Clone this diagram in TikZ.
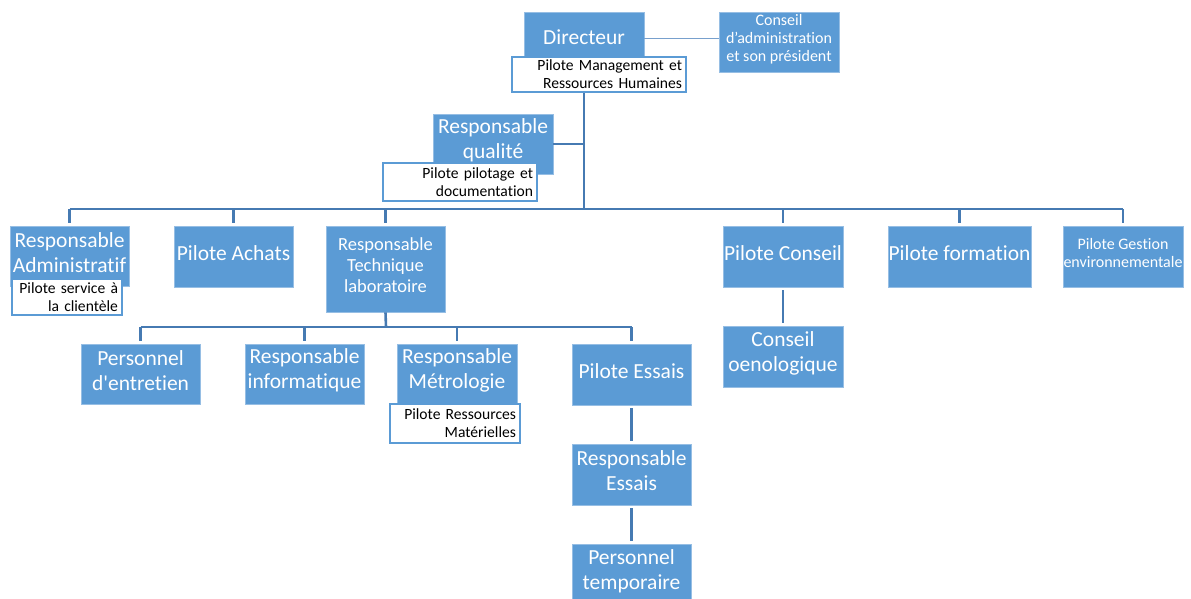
\documentclass[tikz,border=0pt]{standalone}
\usepackage{fontspec}
\setmainfont{Carlito}[Ligatures={TeX,NoCommon}]
\definecolor{boxblue}{RGB}{91,155,213}
\definecolor{boxedge}{RGB}{150,190,228}
\definecolor{connblue}{RGB}{70,122,178}
\definecolor{thinblue}{RGB}{120,160,205}
\tikzset{
  bshape/.style={fill=boxblue, draw=boxedge, line width=0.8pt, inner sep=0pt},
  bt/.style={text=white, align=center, inner sep=0pt, yshift=3.5pt,
    font=\fontsize{21.5}{25}\selectfont},
  btmed/.style={bt, font=\fontsize{18.5}{21}\selectfont},
  btsm/.style={bt, font=\fontsize{16}{18}\selectfont},
  wb/.style={fill=white, draw=boxblue, line width=2pt, text=black, align=right, inner xsep=4pt, inner ysep=0pt,
    font=\fontsize{15.6}{18}\selectfont},
  conn/.style={draw=connblue, line width=2.6pt},
  thin/.style={draw=thinblue, line width=1pt}
}
% \bbox[text style]{name}{x}{y}{w}{h}{text}
\newcommand\bbox[7][bt]{%
  \node[bshape, minimum width=#5pt, minimum height=#6pt] (#2) at (#3,#4) {};
  \node[#1] (#2-t) at (#2.center) {#7};}
\begin{document}
\begin{tikzpicture}[x=1pt,y=-1pt]
\useasboundingbox (0,0) rectangle (1191,598);
% top level
\bbox[bt,yshift=-3pt]{dir}{584}{38}{120}{52}{Directeur}
\bbox[btsm,yshift=-1pt]{ca}{779}{42}{120}{60}{Conseil\\d’administration\\et son président}
\node[wb, minimum width=174pt, minimum height=35pt, text width=166pt] (pm) at (599,74.5) {Pilote Management et\\Ressources Humaines};
\bbox[bt,yshift=0.5pt]{rq}{493}{144}{120}{60}{Responsable\\qualité}
\node[wb, minimum width=154pt, minimum height=38pt, text width=146pt] (pq) at (460,182) {Pilote pilotage et\\documentation};
% level 2
\bbox{ra}{69.5}{256}{119}{60}{Responsable\\Administratif}
\node[wb, minimum width=110pt, minimum height=36pt, text width=102pt] (pa) at (67,297) {Pilote service à\\la clientèle};
\bbox{ach}{233.5}{256.5}{119}{61}{Pilote Achats}
\bbox[btmed]{rtl}{385.5}{269}{119}{86}{Responsable\\Technique\\laboratoire}
\bbox{pc}{783}{256.5}{120}{61}{Pilote Conseil}
\bbox{pf}{959.5}{256.5}{143}{61}{Pilote formation}
\bbox[btsm]{pg}{1123}{256.5}{120}{61}{Pilote Gestion\\environnementale}
\bbox{co}{783}{356.5}{120}{61}{Conseil\\oenologique}
% level 3
\bbox{pe}{140.5}{374}{119}{60}{Personnel\\d\textquotesingle entretien}
\bbox{ri}{304.5}{374}{119}{60}{Responsable\\informatique}
\bbox{rm}{457}{374}{120}{60}{Responsable\\Métrologie}
\node[wb, minimum width=130pt, minimum height=39pt, text width=122pt] (prm) at (455,423.5) {Pilote Ressources\\Matérielles};
\bbox{pes}{631.5}{374.5}{119}{61}{Pilote Essais}
\bbox{res}{631.5}{474.5}{119}{61}{Responsable\\Essais}
\bbox{pt}{631.5}{574.5}{119}{61}{Personnel\\temporaire}
% connectors
\coordinate (bar) at (584,209);
\coordinate (bar2) at (386,327);
\draw[thin] (dir.east) -- (dir.east -| ca.west);
\draw[conn] (pm.south -| bar) -- (bar);
\draw[conn] (rq.east) -- (rq.east -| bar);
\draw[conn] (bar -| ra) -- (bar -| pg);
\foreach \n in {ra,ach,rtl,pc,pf,pg}
  \draw[conn] (bar -| \n) -- ([yshift=3pt]\n.north);
\draw[conn] (rtl.south) -- (bar2);
\draw[conn] (bar2 -| pe) -- (bar2 -| pes);
\foreach \n in {pe,ri,rm,pes}
  \draw[conn] (bar2 -| \n) -- ([yshift=3pt]\n.north);
\draw[conn, shorten <=3pt, shorten >=3pt] (pc.south) -- (co.north);
\draw[conn, shorten <=3pt, shorten >=3pt] (pes.south) -- (res.north);
\draw[conn, shorten <=3pt, shorten >=3pt] (res.south) -- (pt.north);
\end{tikzpicture}
\end{document}
